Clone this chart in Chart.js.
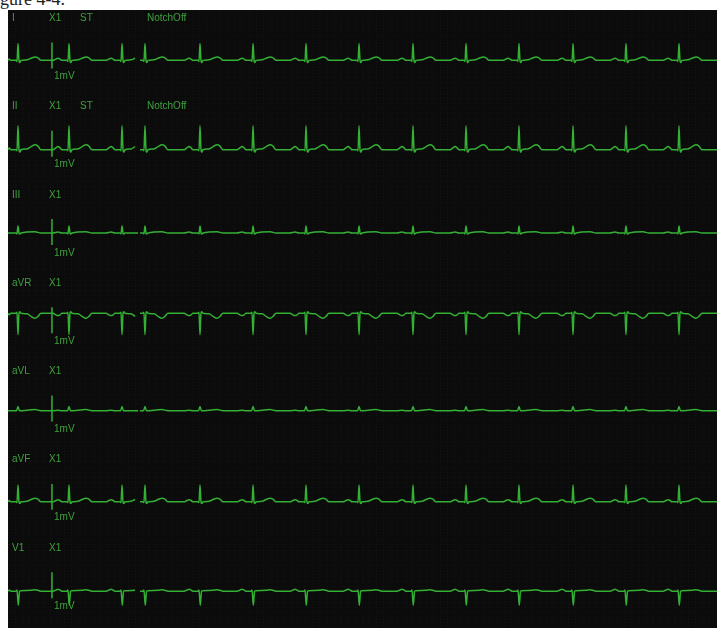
<!DOCTYPE html>
<html>
<head>
<meta charset="utf-8">
<script src="https://cdn.jsdelivr.net/npm/chart.js@4.4.1/dist/chart.umd.min.js"></script>
<style>
    body { margin: 0; background: #fff; width: 717px; height: 628px; overflow: hidden; position: relative; }
    #caption { position: absolute; left: 0; top: -10px; font: 18px/18px "Liberation Serif", serif; color: #222; white-space: nowrap; }
    #panel { position: absolute; left: 8px; top: 10px; width: 709px; height: 618px; background: #0b0b0b; }
    #ecg { position: absolute; left: 0; top: 0; }
    .lbl { position: absolute; font: 10px/10px "Liberation Sans", Arial, sans-serif; color: #3fa03f; white-space: nowrap; }
</style>
</head>
<body>
<div id="caption">gure 4-4.</div>
<div id="panel"><canvas id="ecg" width="709" height="618"></canvas></div>
<script>
// leads, top to bottom
const leads = ['I', 'II', 'III', 'aVR', 'aVL', 'aVF', 'V1'];
const leadFlags = [['X1', 'ST', 'NotchOff'], ['X1', 'ST', 'NotchOff'], ['X1'], ['X1'], ['X1'], ['X1'], ['X1']];

const beatTimesMs = [141, 860, 1608, 1932, 2708, 3456, 4203, 4951, 5712, 6460, 7207, 7969, 8716, 9464];
const sweepSegments = [[0, 1834], [1862, 10000]];

// isoelectric level of each lead, mV above the foot of the 1 mV pulse
const baselineMv = [0.31, 0.27, 0.46, 0.77, 0.42, 0.31, 0.27];

// calibration pulse
const calTimeMs = 620;
const calMv = 1;

// one beat per lead: [ms from R, mV]
const beatI   = [[-225, 0], [-185, 0.05], [-155, 0.08], [-125, 0.05], [-100, 0], [-28, 0], [-14, -0.04], [0, 0.65], [14, 0], [25, -0.08], [42, 0], [127, 0.02], [185, 0.08], [240, 0.13], [282, 0.10], [324, 0]];
const beatII  = [[-225, 0], [-185, 0.07], [-155, 0.12], [-125, 0.07], [-100, 0], [-28, 0], [-14, -0.04], [0, 0.92], [14, 0], [25, -0.10], [42, 0], [127, 0.03], [185, 0.12], [240, 0.19], [282, 0.14], [324, 0]];
const beatIII = [[-225, 0], [-155, 0.04], [-100, 0], [-28, 0], [-14, -0.03], [0, 0.27], [14, 0], [25, -0.04], [42, 0], [240, 0.05], [324, 0]];
const beatAVR = [[-225, 0], [-185, -0.06], [-155, -0.09], [-125, -0.06], [-100, 0], [-28, 0], [-14, 0.04], [0, -0.82], [14, 0], [25, 0.06], [42, 0], [127, -0.02], [185, -0.12], [240, -0.19], [282, -0.12], [324, 0]];
const beatAVL = [[-225, 0], [-155, 0.02], [-100, 0], [-20, 0], [0, 0.16], [20, 0], [240, 0.04], [324, 0]];
const beatAVF = [[-225, 0], [-185, 0.05], [-155, 0.08], [-125, 0.05], [-100, 0], [-28, 0], [-14, -0.03], [0, 0.65], [14, 0], [25, -0.07], [42, 0], [127, 0.02], [185, 0.09], [240, 0.14], [282, 0.10], [324, 0]];
const beatV1  = [[-225, 0], [-185, 0.04], [-155, 0.07], [-125, 0.04], [-100, 0], [-28, 0], [-14, 0.04], [4, -0.54], [22, 0], [42, 0.01], [185, 0.03], [240, 0.05], [282, 0.03], [324, 0]];
const beats = [beatI, beatII, beatIII, beatAVR, beatAVL, beatAVF, beatV1];

// layout of the strip
const ROW_MV = 3.4;
const CAL_FOOT_MV = 2.25;   // distance from row top to the foot of the pulse
const Y_MAX = ROW_MV * leads.length;
const TRACE = '#34b034';

function rowZero(i) {
    return Y_MAX - i * ROW_MV - CAL_FOOT_MV;
}

function buildTrace(tpl, base) {
    const pts = [];
    sweepSegments.forEach(function (seg, k) {
        const s = seg[0], e = seg[1];
        if (k > 0) pts.push({ x: (sweepSegments[k - 1][1] + s) / 2, y: null });
        pts.push({ x: s, y: base });
        beatTimesMs.filter(t => t >= s && t <= e).forEach(function (tR) {
            tpl.forEach(function (p) {
                const t = tR + p[0];
                if (t > s && t < e) pts.push({ x: t, y: base + p[1] });
            });
        });
        if (pts[pts.length - 1].y === base) pts.push({ x: e, y: base });
    });
    return pts;
}

const datasets = [];
leads.forEach(function (lead, i) {
    const zero = rowZero(i);
    datasets.push({
        label: lead,
        data: buildTrace(beats[i], zero + baselineMv[i]),
        borderColor: TRACE,
        borderWidth: 1.5,
        pointRadius: 0,
        spanGaps: false,
        cubicInterpolationMode: 'monotone'
    });
    datasets.push({
        label: lead + ' cal',
        data: [{ x: calTimeMs, y: zero }, { x: calTimeMs, y: zero + calMv }],
        borderColor: TRACE,
        borderWidth: 1.5,
        pointRadius: 0
    });
});

const ctx = document.getElementById('ecg').getContext('2d');
const ecgChart = new Chart(ctx, {
    type: 'line',
    data: { datasets: datasets },
    options: {
        responsive: false,
        animation: false,
        devicePixelRatio: 1,
        layout: { padding: 0 },
        plugins: { legend: { display: false }, tooltip: { enabled: false } },
        scales: {
            x: {
                type: 'linear',
                min: 0,
                max: 10000,
                ticks: { display: false, stepSize: 100, maxTicksLimit: 200 },
                grid: { color: 'rgba(255,255,255,0.035)', lineWidth: 1, drawTicks: false },
                border: { display: false, dash: [1, 2] }
            },
            y: {
                type: 'linear',
                min: 0,
                max: Y_MAX,
                ticks: { display: false, stepSize: 0.2, maxTicksLimit: 200 },
                grid: { color: 'rgba(255,255,255,0.025)', lineWidth: 1, drawTicks: false },
                border: { display: false, dash: [1, 2] }
            }
        }
    }
});

// text labels over each row
const panel = document.getElementById('panel');
const flagX = { 'X1': 41, 'ST': 72, 'NotchOff': 139 };
function addLabel(text, x, y) {
    const d = document.createElement('div');
    d.className = 'lbl';
    d.textContent = text;
    d.style.left = x + 'px';
    d.style.top = y + 'px';
    panel.appendChild(d);
}
leads.forEach(function (lead, i) {
    const rowTop = ecgChart.scales.y.getPixelForValue(Y_MAX - i * ROW_MV);
    addLabel(lead, 4, rowTop + 3);
    leadFlags[i].forEach(f => addLabel(f, flagX[f], rowTop + 3));
    addLabel('1mV', 46, rowTop + 61);
});
</script>
</body>
</html>
